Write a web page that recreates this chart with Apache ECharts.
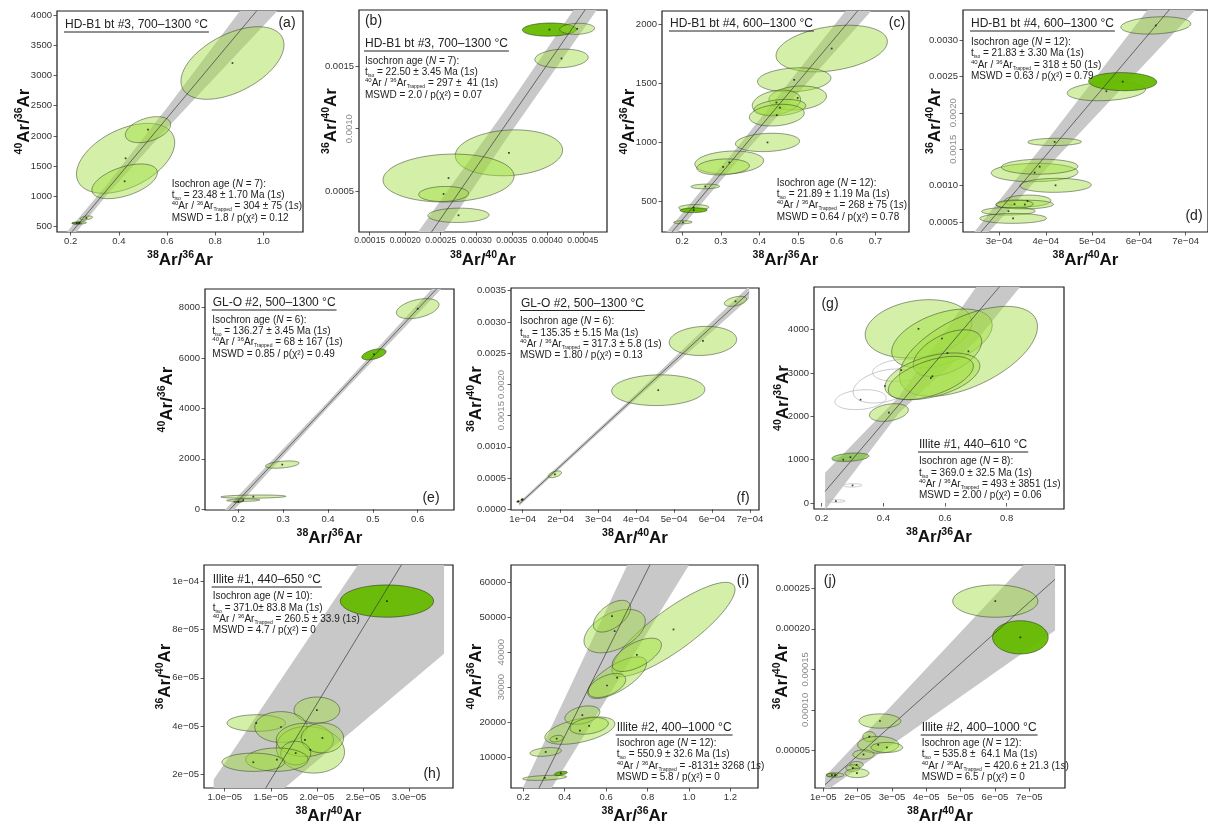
<!DOCTYPE html>
<html>
<head>
<meta charset="utf-8">
<script src="https://cdn.jsdelivr.net/npm/echarts@6.0.0/dist/echarts.min.js"></script>
<style>
  html, body { margin: 0; padding: 0; background: #fff; }
  #chart { width: 1208px; height: 829px; }
</style>
</head>
<body>
<div id="chart"></div>
<script>
// ---------- Error ellipses: [centre x, centre y, half-width x, half-height y, correlation, kind] ----------
// kind: L = step used in the fit, M = darker step, D = highlighted step, O = excluded step (outline only)
const ellA = [
  [0.872, 3206, 0.214, 600, 0.5, 'L'],
  [0.428, 1630, 0.204, 578, 0.45, 'L'],
  [0.521, 2104, 0.094, 215, 0.4, 'L'],
  [0.424, 1250, 0.136, 287, 0.5, 'L'],
  [0.265, 644, 0.026, 33, 0.4, 'L'],
  [0.235, 562, 0.030, 20, 0.2, 'L'],
  [0.225, 558, 0.020, 14, 0.2, 'D']
];
const ellB = [
  [0.000346, 0.000808, 0.0000755, 0.000183, 0.12, 'L'],
  [0.000261, 0.000607, 0.0000922, 0.000191, 0.08, 'L'],
  [0.000254, 0.00048, 0.000035, 0.00006, 0.08, 'L'],
  [0.000275, 0.00031, 0.000043, 0.000057, 0.05, 'L'],
  [0.00042, 0.00156, 0.0000375, 0.000074, 0.12, 'L'],
  [0.000403, 0.00179, 0.000038, 0.0000525, 0.05, 'D'],
  [0.000442, 0.001796, 0.0000245, 0.000044, 0.1, 'L']
];
const ellC = [
  [0.587, 1796, 0.144, 198, 0.3, 'L'],
  [0.49, 1530, 0.095, 102, 0.15, 'L'],
  [0.499, 1376, 0.0745, 102, 0.15, 'L'],
  [0.444, 1337, 0.0625, 106, 0.25, 'L'],
  [0.453, 1294, 0.067, 70, 0.25, 'L'],
  [0.445, 1230, 0.071, 92, 0.2, 'L'],
  [0.421, 998, 0.083, 78, 0.15, 'L'],
  [0.322, 828, 0.089, 97, 0.15, 'L'],
  [0.306, 790, 0.068, 68, 0.15, 'L'],
  [0.26, 624, 0.037, 20, 0.1, 'L'],
  [0.23, 445, 0.039, 25, 0.1, 'L'],
  [0.23, 422, 0.035, 20, 0.1, 'D'],
  [0.202, 320, 0.024, 13, 0.1, 'L']
];
const ellD = [
  [0.000636, 0.0032, 0.000075, 0.000119, 0.2, 'L'],
  [0.00053, 0.002296, 0.000084, 0.00013, 0.2, 'L'],
  [0.000565, 0.002428, 0.000073, 0.000124, -0.05, 'D'],
  [0.000419, 0.0016, 0.0000575, 0.00005, 0.05, 'L'],
  [0.000376, 0.00118, 0.000093, 0.000126, 0.05, 'L'],
  [0.000387, 0.00126, 0.000082, 0.000103, 0.05, 'L'],
  [0.000421, 0.001004, 0.0000765, 0.000096, 0.05, 'L'],
  [0.000361, 0.00079, 0.00005, 0.00008, 0.05, 'L'],
  [0.000355, 0.00074, 0.0000615, 0.00006, 0.05, 'L'],
  [0.000333, 0.000745, 0.00004, 0.000057, 0.05, 'L'],
  [0.00032, 0.000648, 0.0000575, 0.000052, 0.05, 'L'],
  [0.00033, 0.00055, 0.0000715, 0.000068, 0.02, 'L']
];
const ellE = [
  [0.6, 7950, 0.0475, 397, 0.4, 'L'],
  [0.5025, 6140, 0.027, 218, 0.5, 'D'],
  [0.298, 1772, 0.0375, 145, 0.4, 'L'],
  [0.2335, 502, 0.0725, 65, 0.2, 'L'],
  [0.211, 360, 0.037, 50, 0.2, 'L'],
  [0.2, 300, 0.01, 30, 0.4, 'D']
];
const ellF = [
  [0.000662, 0.00333, 0.0000295, 0.00008, 0.45, 'L'],
  [0.000576, 0.002696, 0.000089, 0.000233, 0.1, 'L'],
  [0.000458, 0.001907, 0.000123, 0.000246, 0.05, 'L'],
  [0.000185, 0.00056, 0.0000175, 0.000054, 0.5, 'L'],
  [0.0000985, 0.000155, 0.000004, 0.000015, 0.5, 'D'],
  [0.000088, 0.000125, 0.000004, 0.000012, 0.5, 'D']
];
const ellG = [
  [0.326, 2385, 0.083, 230, 0.2, 'O'],
  [0.405, 2700, 0.103, 392, 0.35, 'O'],
  [0.458, 3065, 0.093, 258, 0.2, 'O'],
  [0.3, 407, 0.03, 38, 0.1, 'O'],
  [0.246, 46, 0.03, 31, 0.05, 'O'],
  [0.27, 999, 0.035, 45, 0.2, 'O'],
  [0.514, 4020, 0.173, 672, 0.2, 'L'],
  [0.59, 3796, 0.163, 680, 0.45, 'L'],
  [0.676, 3500, 0.224, 1038, 0.55, 'L'],
  [0.608, 3460, 0.111, 538, 0.5, 'L'],
  [0.559, 2924, 0.154, 539, 0.45, 'L'],
  [0.554, 2885, 0.138, 500, 0.55, 'L'],
  [0.418, 2088, 0.063, 204, 0.3, 'L'],
  [0.293, 1057, 0.06, 97, 0.3, 'M']
];
const ellH = [
  [2.0e-5, 4.66e-5, 2.48e-6, 5.4e-6, 0, 'L'],
  [1.342e-5, 4.12e-5, 3.17e-6, 3.45e-6, 0, 'L'],
  [1.61e-5, 3.955e-5, 2.84e-6, 6.4e-6, 0, 'L'],
  [1.93e-5, 3.01e-5, 3.7e-6, 9.7e-6, -0.1, 'L'],
  [1.87e-5, 3.42e-5, 3.1e-6, 6.9e-6, 0, 'L'],
  [2.06e-5, 3.5e-5, 2.3e-6, 6.2e-6, 0, 'L'],
  [1.77e-5, 2.87e-5, 1.63e-6, 4.9e-6, 0, 'L'],
  [1.566e-5, 2.6e-5, 3.38e-6, 4.85e-6, 0, 'L'],
  [1.31e-5, 2.49e-5, 3.4e-6, 3.8e-6, 0, 'L'],
  [2.76e-5, 9.19e-5, 5.06e-6, 6.7e-6, 0, 'D']
];
const ellI = [
  [0.925, 46500, 0.297, 13500, 0.85, 'L'],
  [0.641, 46030, 0.148, 6220, 0.45, 'L'],
  [0.628, 50300, 0.09, 4540, 0.55, 'L'],
  [0.653, 32700, 0.142, 5970, 0.7, 'L'],
  [0.748, 39240, 0.119, 4770, 0.6, 'L'],
  [0.604, 30460, 0.0905, 3440, 0.5, 'L'],
  [0.473, 17550, 0.169, 3930, 0.5, 'L'],
  [0.485, 21990, 0.0845, 2620, 0.35, 'L'],
  [0.518, 18900, 0.0925, 2390, 0.3, 'L'],
  [0.361, 15240, 0.032, 950, 0.3, 'L'],
  [0.308, 11430, 0.076, 1250, 0.3, 'L'],
  [0.303, 4020, 0.106, 720, 0.4, 'L'],
  [0.381, 5300, 0.031, 580, 0.5, 'D']
];
const ellJ = [
  [6.01e-5, 2.342e-4, 1.24e-5, 1.99e-5, 0, 'L'],
  [6.74e-5, 1.895e-4, 8.1e-6, 2.05e-5, 0, 'D'],
  [2.65e-5, 8.63e-5, 6.1e-6, 8.8e-6, 0, 'L'],
  [2.34e-5, 6.71e-5, 1.9e-6, 6.2e-6, 0, 'L'],
  [2.6e-5, 5.7e-5, 6.0e-6, 1.03e-5, 0, 'L'],
  [2.85e-5, 5.37e-5, 4.6e-6, 6.2e-6, 0, 'L'],
  [2.17e-5, 4.5e-5, 3.1e-6, 5.7e-6, 0, 'L'],
  [1.97e-5, 3.23e-5, 1.9e-6, 4.1e-6, 0, 'L'],
  [1.86e-5, 2.82e-5, 2.0e-6, 4.1e-6, 0, 'L'],
  [1.98e-5, 2.2e-5, 3.5e-6, 5.5e-6, 0, 'L'],
  [1.34e-5, 1.97e-5, 2.6e-6, 2.7e-6, 0, 'L'],
  [1.25e-5, 1.97e-5, 1.6e-6, 2.0e-6, 0, 'M']
];

// ---------- Isochron fit lines (two end points) ----------
const lineA = [[0.12, 12], [1.1, 4675]];
const lineB = [[0.0002, -0.000126], [0.0005, 0.002331]];
const lineC = [[0.14, 104], [0.7, 2295]];
const lineD = [[0.00023, 0.000127], [0.00075, 0.004058]];
const lineE = [[0.17, -218], [0.7, 9830]];
const lineF = [[0.000091, 0.0000855], [0.000698, 0.003473]];
const lineG = [[0.211, 268], [0.85, 5603]];
const lineH = [[8.8e-6, -2.14e-5], [3.38e-5, 1.361e-4]];
const lineI = [[0.18, -10348], [1.05, 93487]];
const lineJ = [[1.05e-5, 7.7e-6], [7.75e-5, 2.611e-4]];

// ---------- Fit uncertainty envelopes: [x, lower y, upper y] ----------
const bandA = [[0.12, -88, 112], [0.35, 1022, 1192], [0.6, 2126, 2466], [1.0, 3819, 4579], [1.1, 4245, 5105]];
const bandB = [[0.0002, -0.000286, 0.000034], [0.00034, 0.000901, 0.001141], [0.0005, 0.002191, 0.002471]];
const bandC = [[0.14, 49, 159], [0.35, 865.5, 985.5], [0.7, 2155, 2435]];
const bandD = [[0.00023, 0.000027, 0.000227], [0.00042, 0.001363, 0.001763], [0.00075, 0.003608, 0.004508]];
const bandE = [[0.17, -418, -18], [0.4, 4023, 4263], [0.7, 9610, 10050]];
const bandF = [[0.000091, 0.0000555, 0.0001155], [0.0004, 0.00177, 0.00185], [0.000698, 0.003373, 0.003573]];
const bandG = [[0.211, -162, 698], [0.45, 2073, 2453], [0.7, 3731, 4971], [0.85, 5043, 6163]];
const bandH = [[8.8e-6, -3e-5, 1.77e-5], [1.65e-5, 1.42e-5, 6.16e-5], [3.38e-5, 7.0e-5, 1.602e-4]];
const bandI = [[0.18, -14009, -1039], [1.05, 69772, 108929]];
const bandJ = [[1.05e-5, -0.7e-6, 1.79e-5], [7.75e-5, 1.978e-4, 3.2e-4]];

// ---------- Tick values (rotated y labels listed separately) ----------
const xTicksA = [0.2, 0.4, 0.6, 0.8, 1.0];
const yTicksA = [500, 1000, 1500, 2000, 2500, 3000, 3500, 4000];
const xTicksB = [0.00015, 0.0002, 0.00025, 0.0003, 0.00035, 0.0004, 0.00045];
const yTicksB = [0.0005, 0.001, 0.0015];
const yRotB = [0.001];
const xTicksC = [0.2, 0.3, 0.4, 0.5, 0.6, 0.7];
const yTicksC = [500, 1000, 1500, 2000];
const xTicksD = [0.0003, 0.0004, 0.0005, 0.0006, 0.0007];
const yTicksD = [0.0005, 0.001, 0.0015, 0.002, 0.0025, 0.003];
const yRotD = [0.0015, 0.002];
const xTicksE = [0.2, 0.3, 0.4, 0.5, 0.6];
const yTicksE = [0, 2000, 4000, 6000, 8000];
const xTicksF = [0.0001, 0.0002, 0.0003, 0.0004, 0.0005, 0.0006, 0.0007];
const yTicksF = [0, 0.0005, 0.001, 0.0015, 0.002, 0.0025, 0.003, 0.0035];
const yRotF = [0.0015, 0.002];
const xTicksG = [0.2, 0.4, 0.6, 0.8];
const yTicksG = [0, 1000, 2000, 3000, 4000];
const xTicksH = [1e-5, 1.5e-5, 2e-5, 2.5e-5, 3e-5];
const yTicksH = [2e-5, 4e-5, 6e-5, 8e-5, 1e-4];
const xTicksI = [0.2, 0.4, 0.6, 0.8, 1.0, 1.2];
const yTicksI = [10000, 20000, 30000, 40000, 50000, 60000];
const yRotI = [30000, 40000];
const xTicksJ = [1e-5, 2e-5, 3e-5, 4e-5, 5e-5, 6e-5, 7e-5];
const yTicksJ = [5e-5, 1e-4, 1.5e-4, 2e-4, 2.5e-4];
const yRotJ = [1e-4, 1.5e-4];

// ---------- Panel texts ----------
const titles = {
  a: 'HD-B1 bt #3, 700–1300 °C', b: 'HD-B1 bt #3, 700–1300 °C',
  c: 'HD-B1 bt #4, 600–1300 °C', d: 'HD-B1 bt #4, 600–1300 °C',
  e: 'GL-O #2, 500–1300 °C', f: 'GL-O #2, 500–1300 °C',
  g: 'Illite #1, 440–610 °C', h: 'Illite #1, 440–650 °C',
  i: 'Illite #2, 400–1000 °C', j: 'Illite #2, 400–1000 °C'
};
const statsN = { a: '7', b: '7', c: '12', d: '12', e: '6', f: '6', g: '8', h: '10', i: '12', j: '12' };
const statsAge = {
  a: '23.48 ± 1.70', b: '22.50 ± 3.45', c: '21.89 ± 1.19', d: '21.83 ± 3.30', e: '136.27 ± 3.45',
  f: '135.35 ± 5.15', g: '369.0 ± 32.5', h: '371.0± 83.8', i: '550.9 ± 32.6', j: '535.8 ±  64.1'
};
const statsTrapped = {
  a: '304 ± 75', b: '297 ±  41', c: '268 ± 75', d: '318 ± 50', e: '68 ± 167',
  f: '317.3 ± 5.8', g: '493 ± 3851', h: '260.5 ± 33.9', i: '-8131± 3268', j: '420.6 ± 21.3'
};
const statsMswd = {
  a: ['1.8', '0.12'], b: ['2.0', '0.07'], c: ['0.64', '0.78'], d: ['0.63', '0.79'], e: ['0.85', '0.49'],
  f: ['1.80', '0.13'], g: ['2.00', '0.06'], h: ['4.7', '0'], i: ['5.8', '0'], j: ['6.5', '0']
};

// ---------- Layout of the ten panels ----------
const FONT = '"Liberation Sans", Arial, Helvetica, sans-serif';
function sci(v, d) {
  const parts = v.toExponential(d).split('e');
  const n = parseInt(parts[1], 10);
  return parts[0] + 'e' + (n < 0 ? '\u2212' : '+') + String(Math.abs(n)).padStart(2, '0');
}
const FMT = {
  f1: v => v.toFixed(1), f4: v => v.toFixed(4), f5: v => v.toFixed(5),
  i0: v => String(Math.round(v)), e0: v => sci(v, 0), e1: v => sci(v, 1)
};

const panels = [
  { k: 'a', grid: [57, 11, 246, 221], x: [0.143, 1.165], y: [412, 4066], xf: 'f1', yf: 'i0', r: '36', yGap: 23, xfs: 9.5,
    ell: ellA, line: lineA, band: bandA, xt: xTicksA, yt: yTicksA, yr: [], label: [287, 23], title: [65, 25], stats: [171.7, 184] },
  { k: 'b', grid: [359, 10, 248, 222], x: [0.000135, 0.000484], y: [0.000177, 0.001946], xf: 'f5', yf: 'f4', r: '40', yGap: 18, xfs: 8.6,
    ell: ellB, line: lineB, band: bandB, xt: xTicksB, yt: yTicksB, yr: yRotB, label: [373.5, 21.5], title: [365, 44], stats: [365, 61] },
  { k: 'c', grid: [662, 11, 247, 221], x: [0.148, 0.787], y: [237, 2115], xf: 'f1', yf: 'i0', r: '36', yGap: 23, xfs: 9.5,
    ell: ellC, line: lineC, band: bandC, xt: xTicksC, yt: yTicksC, yr: [], label: [897, 23], title: [670, 24], stats: [776.7, 183] },
  { k: 'd', grid: [963, 10, 249, 222], x: [0.0002225, 0.000748], y: [0.000363, 0.003412], xf: 'e0', yf: 'f4', r: '40', yGap: 18, xfs: 9.5,
    ell: ellD, line: lineD, band: bandD, xt: xTicksD, yt: yTicksD, yr: yRotD, label: [1194, 216], title: [971, 24], stats: [971, 42.3] },
  { k: 'e', grid: [205, 289, 249, 221], x: [0.1257, 0.681], y: [-28, 8730], xf: 'f1', yf: 'i0', r: '36', yGap: 28, xfs: 9.5,
    ell: ellE, line: lineE, band: bandE, xt: xTicksE, yt: yTicksE, yr: [], label: [431, 497.7], title: [212.7, 303], stats: [212.3, 320] },
  { k: 'f', grid: [511, 288, 248, 222], x: [0.0000691, 0.000724], y: [-0.0000112, 0.003543], xf: 'e0', yf: 'f4', r: '40', yGap: 25, xfs: 9.5,
    ell: ellF, line: lineF, band: bandF, xt: xTicksF, yt: yTicksF, yr: yRotF, label: [743, 497.7], title: [521, 303.5], stats: [520, 321.7] },
  { k: 'g', grid: [814, 287, 250, 222], x: [0.175, 0.986], y: [-138, 4985], xf: 'f1', yf: 'i0', r: '36', yGap: 21, xfs: 9.5,
    ell: ellG, line: lineG, band: bandG, xt: xTicksG, yt: yTicksG, yr: [], label: [830, 304], title: [919, 445], stats: [919, 461.7] },
  { k: 'h', grid: [204, 565, 249, 223], x: [7.75e-6, 3.477e-5], y: [1.42e-5, 1.069e-4], xf: 'e1', yf: 'e0', r: '40', yGap: 29, xfs: 9.5,
    ell: ellH, line: lineH, band: bandH, xt: xTicksH, yt: yTicksH, yr: [], label: [432, 774], title: [212.7, 580], stats: [212.7, 596.7] },
  { k: 'i', grid: [511, 565, 247, 223], x: [0.1406, 1.333], y: [1110, 64960], xf: 'f1', yf: 'i0', r: '36', yGap: 25, xfs: 9.5,
    ell: ellI, line: lineI, band: bandI, xt: xTicksI, yt: yTicksI, yr: yRotI, label: [743, 581], title: [616.7, 728], stats: [616.7, 743.3] },
  { k: 'j', grid: [815, 565, 250, 223], x: [7.58e-6, 8.04e-5], y: [3.7e-6, 0.0002787], xf: 'e0', yf: 'f5', r: '40', yGap: 23, xfs: 9.5,
    ell: ellJ, line: lineJ, band: bandJ, xt: xTicksJ, yt: yTicksJ, yr: yRotJ, label: [830, 581], title: [921.7, 728], stats: [921.7, 743.3] }
];

// ---------- Styles ----------
const ELL_STYLE = {
  L: { fill: 'rgba(160,222,62,0.45)', stroke: 'rgba(45,55,35,0.85)', lineWidth: 0.6 },
  M: { fill: 'rgba(118,196,36,0.62)', stroke: 'rgba(45,55,35,0.85)', lineWidth: 0.6 },
  D: { fill: 'rgba(102,187,0,0.95)', stroke: 'rgba(35,45,25,0.9)', lineWidth: 0.6 },
  O: { fill: 'none', stroke: '#bababa', lineWidth: 0.8 }
};
const nameRich = {
  b: { fontSize: 17, fontWeight: 'bold', fontFamily: FONT, color: '#111', lineHeight: 20 },
  s: { fontSize: 10.5, fontWeight: 'bold', fontFamily: FONT, color: '#111', verticalAlign: 'top', lineHeight: 12 }
};
function axisName(top, bottom) { return '{s|' + top + '}{b|Ar/}{s|' + bottom + '}{b|Ar}'; }
const statRich = {
  n: { fontSize: 10, fontFamily: FONT, fill: '#222', lineHeight: 12 },
  i: { fontSize: 10, fontFamily: FONT, fontStyle: 'italic', fill: '#222', lineHeight: 12 },
  sub: { fontSize: 5, fontFamily: FONT, fill: '#222', verticalAlign: 'bottom', lineHeight: 8 },
  sup: { fontSize: 6, fontFamily: FONT, fill: '#222', verticalAlign: 'top', lineHeight: 7 }
};

const measureCtx = document.createElement('canvas').getContext('2d');
measureCtx.font = '12px "Liberation Sans"';

const option = { animation: false, grid: [], xAxis: [], yAxis: [], series: [], graphic: [] };

panels.forEach((p, gi) => {
  option.grid.push({
    left: p.grid[0], top: p.grid[1], width: p.grid[2], height: p.grid[3],
    show: true, borderColor: '#1c1c1c', borderWidth: 1.2, backgroundColor: 'transparent'
  });
  const tickStyle = { show: true, inside: false, length: 3.5, lineStyle: { color: '#333', width: 0.8 } };
  const xNameTxt = p.r === '36' ? axisName('38', '36') : axisName('38', '40');
  const yNameTxt = p.r === '36' ? axisName('40', '36') : axisName('36', '40');
  option.xAxis.push({
    type: 'value', gridIndex: gi, min: p.x[0], max: p.x[1],
    axisLine: { show: false }, splitLine: { show: false },
    axisTick: Object.assign({ customValues: p.xt }, tickStyle),
    axisLabel: { customValues: p.xt, formatter: FMT[p.xf], fontSize: p.xfs, color: '#333', fontFamily: FONT, margin: 4 },
    name: xNameTxt, nameLocation: 'middle', nameGap: 18, nameMoveOverlap: false,
    nameTextStyle: { rich: nameRich }
  });
  const yMainIndex = option.yAxis.length;
  const horiz = p.yt.filter(v => p.yr.indexOf(v) < 0);
  option.yAxis.push({
    type: 'value', gridIndex: gi, min: p.y[0], max: p.y[1], position: 'left',
    axisLine: { show: false }, splitLine: { show: false },
    axisTick: Object.assign({ customValues: p.yt }, tickStyle),
    axisLabel: { customValues: horiz, formatter: FMT[p.yf], fontSize: 9.5, color: '#333', fontFamily: FONT, margin: 5 },
    name: yNameTxt, nameLocation: 'middle', nameGap: p.yGap, nameMoveOverlap: false,
    nameTextStyle: { rich: nameRich }
  });
  if (p.yr.length) {
    option.yAxis.push({
      type: 'value', gridIndex: gi, min: p.y[0], max: p.y[1], position: 'left', offset: 0,
      axisLine: { show: false }, splitLine: { show: false }, axisTick: { show: false },
      axisLabel: { customValues: p.yr, formatter: FMT[p.yf], rotate: 90, fontSize: 9.5, color: '#8a8a8a', fontFamily: FONT, margin: 5 }
    });
  }

  // Confidence envelope of the fit
  const band = p.band;
  option.series.push({
    type: 'custom', xAxisIndex: gi, yAxisIndex: yMainIndex, clip: true, silent: true, z: 1,
    data: [[band[0][0], band[0][1]]],
    renderItem: function (params, api) {
      const upper = band.map(r => api.coord([r[0], r[2]]));
      const lower = band.map(r => api.coord([r[0], r[1]])).reverse();
      return { type: 'polygon', shape: { points: upper.concat(lower) }, style: { fill: '#c8c8c8', stroke: 'none' } };
    }
  });

  // Error ellipses
  const ell = p.ell;
  option.series.push({
    type: 'custom', xAxisIndex: gi, yAxisIndex: yMainIndex, clip: true, silent: true, z: 2,
    data: ell.map(e => e.slice(0, 5)),
    renderItem: function (params, api) {
      const e = ell[params.dataIndex];
      const q = Math.sqrt(1 - e[4] * e[4]);
      const pts = [];
      for (let s = 0; s < 96; s++) {
        const t = s / 96 * Math.PI * 2;
        pts.push(api.coord([e[0] + e[2] * Math.cos(t), e[1] + e[3] * (e[4] * Math.cos(t) + q * Math.sin(t))]));
      }
      return { type: 'polygon', shape: { points: pts }, style: Object.assign({}, ELL_STYLE[e[5]]) };
    }
  });

  // Regression line
  option.series.push({
    type: 'line', xAxisIndex: gi, yAxisIndex: yMainIndex, data: p.line, symbol: 'none', silent: true, z: 3,
    lineStyle: { color: '#3a3a3a', width: 0.7 }, clip: true
  });

  // Centre points
  option.series.push({
    type: 'scatter', xAxisIndex: gi, yAxisIndex: yMainIndex, silent: true, z: 4,
    data: ell.map(e => [e[0], e[1]]), symbol: 'rect', symbolSize: 1.7,
    itemStyle: { color: '#111' }
  });

  // Panel letter
  option.graphic.push({
    type: 'text', x: p.label[0], y: p.label[1], z: 100,
    style: { text: '(' + p.k + ')', fontSize: 14, fontFamily: FONT, fill: '#222', align: 'center', verticalAlign: 'middle' }
  });
  // Sample title with underline
  const title = titles[p.k];
  const tw = measureCtx.measureText(title).width;
  option.graphic.push({
    type: 'text', x: p.title[0], y: p.title[1], z: 100,
    style: { text: title, fontSize: 12, fontFamily: FONT, fill: '#222', align: 'left', verticalAlign: 'middle' }
  });
  option.graphic.push({
    type: 'line', z: 100,
    shape: { x1: p.title[0] - 1, y1: p.title[1] + 7, x2: p.title[0] + tw + 1, y2: p.title[1] + 7 },
    style: { stroke: '#222', lineWidth: 1 }
  });
  // Isochron statistics
  const mswd = statsMswd[p.k];
  const lines = [
    '{n|Isochron age (}{i|N}{n| = ' + statsN[p.k] + '):}',
    '{n|t}{sub|iso}{n| = ' + statsAge[p.k] + ' Ma (1}{i|s}{n|)}',
    '{sup|40}{n|Ar / }{sup|36}{n|Ar}{sub|Trapped}{n| = ' + statsTrapped[p.k] + ' (1}{i|s}{n|)}',
    '{n|MSWD = ' + mswd[0] + ' / p(χ²) = ' + mswd[1] + '}'
  ];
  lines.forEach((t, li) => {
    option.graphic.push({
      type: 'text', x: p.stats[0], y: p.stats[1] + li * 11.3, z: 100,
      style: { text: t, rich: statRich, fontSize: 10, fontFamily: FONT, fill: '#222', align: 'left', verticalAlign: 'middle' }
    });
  });
});

const chart = echarts.init(document.getElementById('chart'), null, { renderer: 'canvas' });
chart.setOption(option);
</script>
</body>
</html>
